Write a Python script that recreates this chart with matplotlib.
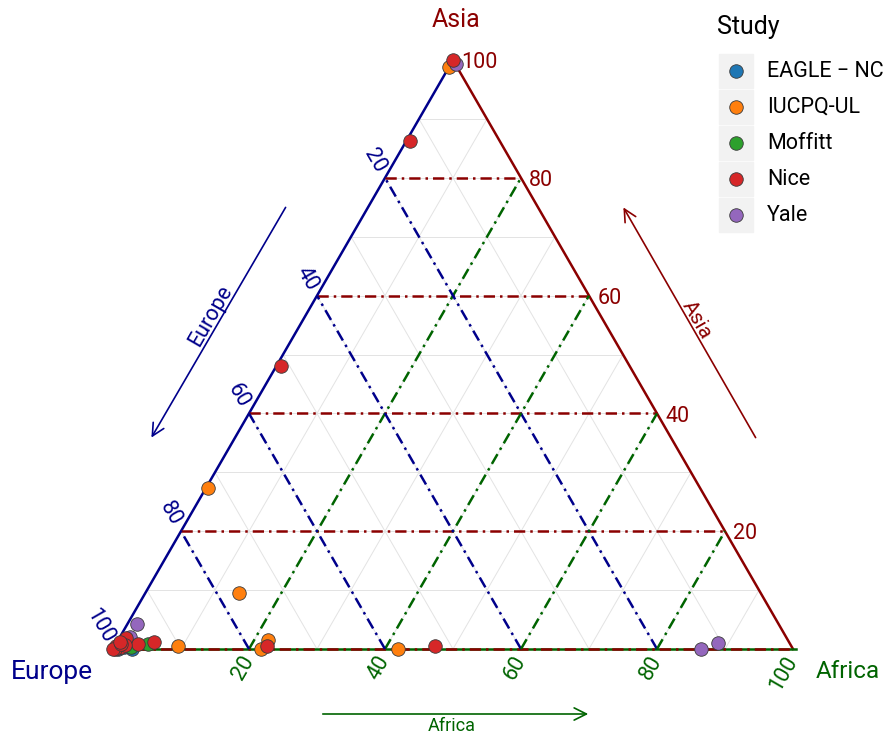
import matplotlib.pyplot as plt
from matplotlib.patches import Rectangle
import numpy as np

plt.rcParams['font.family'] = ['Roboto', 'DejaVu Sans']

studies = ['EAGLE \u2212 NC', 'IUCPQ-UL', 'Moffitt', 'Nice', 'Yale']
colors = ['#1F77B4', '#FF7F0E', '#2CA02C', '#D62728', '#9467BD']

# ancestry percentages per study (Africa, Asia); Europe is the remainder
eagle_africa = [2.8, 1.5, 0.8, 0.3, 2.0]
eagle_asia = [0.0, 0.3, 0.0, 0.2, 0.5]
iucpq_africa = [0.0, 0.3, 13.8, 22.0, 21.8, 9.3, 41.9]
iucpq_asia = [98.8, 27.3, 9.5, 1.6, 0.0, 0.5, 0.0]
moffitt_africa = [4.8, 2.5]
moffitt_asia = [0.8, 0.3]
nice_africa = [0.0, 0.6, 0.7, 22.4, 47.1, 5.4, 3.3, 1.0, 0.5, 0.2, 1.0, 0.3, 0.0, 1.5, 0.8, 0.4]
nice_asia = [100.0, 86.2, 48.0, 0.5, 0.5, 1.2, 0.8, 1.9, 0.2, 0.5, 0.3, 0.0, 0.0, 0.6, 0.9, 1.2]
yale_africa = [0.7, 1.4, 1.5, 86.5, 88.5]
yale_asia = [99.4, 4.2, 2.0, 0.0, 1.0]

africa = [eagle_africa, iucpq_africa, moffitt_africa, nice_africa, yale_africa]
asia = [eagle_asia, iucpq_asia, moffitt_asia, nice_asia, yale_asia]
draw_order = [0, 1, 2, 4, 3]  # Nice drawn last, on top

ticks = [20, 40, 60, 80, 100]
grid_minor = [10, 30, 50, 70, 90]

EU_COL = '#00008B'
AF_COL = '#006400'
AS_COL = '#8B0000'

H = np.sqrt(3) / 2
W_PX, H_PX = 883, 736
X0, Y0, SIDE = 113, 649, 680  # Europe corner and side length in pixels


def tern(af, asi):
    af = np.asarray(af, float) / 100
    asi = np.asarray(asi, float) / 100
    return af + asi / 2, asi * H


def px(x, y):
    # figure pixel -> data coordinates
    return (x - X0) / SIDE, (Y0 - y) / SIDE


fig = plt.figure(figsize=(W_PX / 100, H_PX / 100), dpi=100)
ax = fig.add_axes([0, 0, 1, 1])
ax.set_xlim(-X0 / SIDE, (W_PX - X0) / SIDE)
ax.set_ylim((Y0 - H_PX) / SIDE, Y0 / SIDE)
ax.set_aspect('auto')
ax.axis('off')

# light grid every 10%
for v in grid_minor + [20, 40, 60, 80]:
    f = v / 100
    ax.plot([f / 2, 1 - f / 2], [f * H, f * H], color='#E3E3E3', lw=0.7, zorder=1)
    ax.plot([f, f + (1 - f) / 2], [0, (1 - f) * H], color='#E3E3E3', lw=0.7, zorder=1)
    ax.plot([1 - f, (1 - f) / 2], [0, (1 - f) * H], color='#E3E3E3', lw=0.7, zorder=1)

# triangle edges
ax.plot([0, 0.5], [0, H], color=EU_COL, lw=1.8, zorder=2)
ax.plot([1, 0.5], [0, H], color=AS_COL, lw=1.8, zorder=2)
ax.plot([0, 1.005], [0, 0], color=AF_COL, lw=1.8, zorder=2)

dd = (0, (4.5, 2, 1, 2))
for v in [0, 20, 40, 60, 80]:
    f = v / 100
    ax.plot([f / 2, 1 - f / 2], [f * H, f * H], color=AS_COL, lw=1.8, ls=dd, zorder=3)
for v in [20, 40, 60, 80]:
    f = v / 100
    ax.plot([f, f + (1 - f) / 2], [0, (1 - f) * H], color=AF_COL, lw=1.8, ls=dd, zorder=3)
    ax.plot([1 - f, (1 - f) / 2], [0, (1 - f) * H], color=EU_COL, lw=1.8, ls=dd, zorder=3)

# tick labels
for v in ticks:
    x, y = tern(100 - v, v)
    ax.annotate(str(v), (x, y), xytext=(6, -2), textcoords='offset points',
                color=AS_COL, fontsize=15.5, ha='left', va='center')
    x, y = tern(0, 100 - v)
    ax.annotate(str(v), (x, y), xytext=(-3, 5), textcoords='offset points',
                color=EU_COL, fontsize=15.5, ha='right', va='center',
                rotation=-60, rotation_mode='anchor')
    x, y = tern(v, 0)
    ax.annotate(str(v), (x, y), xytext=(0, -6), textcoords='offset points',
                color=AF_COL, fontsize=15.5, ha='right', va='center',
                rotation=60, rotation_mode='anchor')

# points
for k, i in enumerate(draw_order):
    x, y = tern(africa[i], asia[i])
    ax.scatter(x, y, s=95, color=colors[i], edgecolor='#3A3A3A', linewidth=0.6,
               zorder=5 + k, clip_on=False)

# axis titles
ax.text(*px(456, 20), 'Asia', color=AS_COL, fontsize=18, ha='center', va='center')
ax.text(*px(52, 672), 'Europe', color=EU_COL, fontsize=19, ha='center', va='center')
ax.text(*px(848, 672), 'Africa', color=AF_COL, fontsize=17.5, ha='center', va='center')

# direction arrows
arrow = dict(arrowstyle='->', lw=1.2, mutation_scale=22)
ax.annotate('', xy=px(150, 440), xytext=px(287, 205),
            arrowprops=dict(color=EU_COL, **arrow))
ax.text(*px(211, 316), 'Europe', color=EU_COL, fontsize=15.5, rotation=60,
        ha='center', va='center')
ax.annotate('', xy=px(622, 205), xytext=px(757, 440),
            arrowprops=dict(color=AS_COL, **arrow))
ax.text(*px(697, 320), 'Asia', color=AS_COL, fontsize=15, rotation=-60,
        ha='center', va='center')
ax.annotate('', xy=px(591, 714), xytext=px(320, 714),
            arrowprops=dict(color=AF_COL, **arrow))
ax.text(*px(452, 726), 'Africa', color=AF_COL, fontsize=13, ha='center', va='center')

# legend
ax.text(*px(717, 27), 'Study', fontsize=18, ha='left', va='center', color='black')
for i, (name, col) in enumerate(zip(studies, colors)):
    yc = 71 + i * 36
    bx, by = px(719, yc + 17)
    ax.add_patch(Rectangle((bx, by), 34 / SIDE, 34 / SIDE, color='#F2F2F2',
                           zorder=1, clip_on=False))
    ax.scatter(*px(736, yc), s=95, color=col, edgecolor='#3A3A3A',
               linewidth=0.6, zorder=5, clip_on=False)
    ax.text(*px(767, yc), name, fontsize=15.5, ha='left', va='center', color='black')

fig.savefig('out.png', dpi=100)
